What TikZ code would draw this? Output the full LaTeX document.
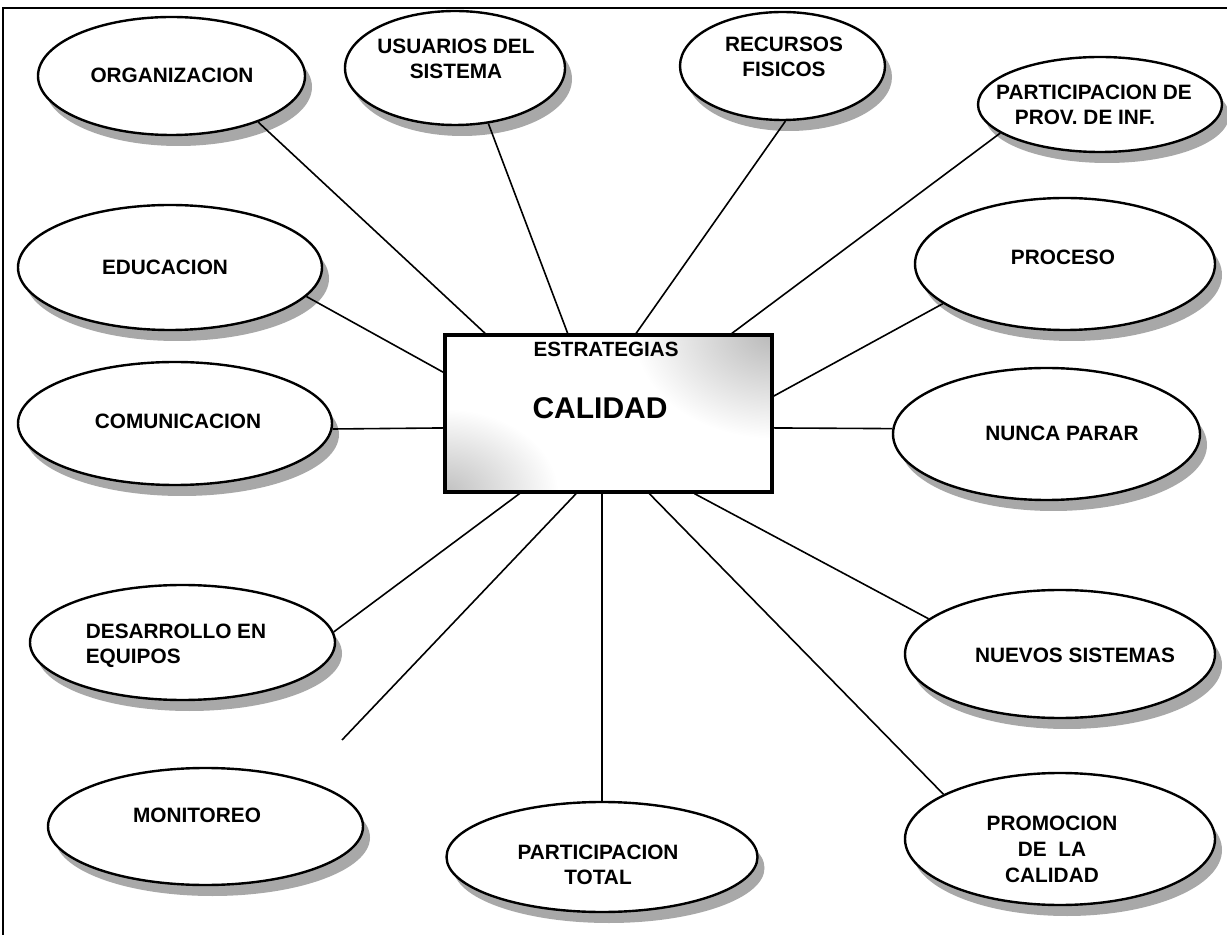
\documentclass[tikz,border=0pt]{standalone}
\usepackage{fontspec}
\setmainfont{Liberation Sans}
\usetikzlibrary{shapes.geometric,shadows,backgrounds}
\begin{document}
\begin{tikzpicture}[x=0.5pt,y=-0.5pt,
  oval/.style={ellipse,draw,line width=1.2pt,fill=white,inner sep=0pt,
    drop shadow={opacity=1,fill=gray!68,shadow xshift=3.5pt,shadow yshift=-5.5pt}},
  lbl/.style={font=\fontsize{10.4}{12.6}\selectfont\bfseries,align=center,inner sep=0pt},
  boxst/.style={rectangle,draw,line width=1.6pt,minimum width=163.5pt,minimum height=78.5pt,inner sep=0pt},
  link/.style={line width=0.8pt}]
\useasboundingbox (0,0) rectangle (1227,935);
% frame
\draw[line width=1.4pt] (3,935) -- (3,8) -- (1227,8);
% central box
\node[boxst] (box) at (608.5,413.5) {};
\begin{scope}[on background layer]
  \fill[white] (0,0) rectangle (1227,935);
  \clip (box.south west) rectangle (box.north east);
  \shade[inner color=gray!55,outer color=white] (box.north east) ellipse [x radius=140,y radius=105];
  \shade[inner color=gray!50,outer color=white] (box.south west) ellipse [x radius=115,y radius=85];
\end{scope}
\node[font=\fontsize{10.3}{12}\selectfont\bfseries,inner sep=0pt] (estr) at (606,349) {ESTRATEGIAS};
\node[font=\fontsize{15}{18}\selectfont\bfseries,inner sep=0pt] (cal) at (600,408) {CALIDAD};
% ellipses
\node[oval,minimum width=133.5pt,minimum height=59pt] (org) at (171.5,76) {};
\node[oval,minimum width=110pt,minimum height=57pt] (usu) at (455,68) {};
\node[oval,minimum width=102.5pt,minimum height=54pt] (rec) at (782.5,66) {};
\node[oval,minimum width=122pt,minimum height=47.5pt] (prov) at (1100,104.5) {};
\node[oval,minimum width=152pt,minimum height=62.5pt] (edu) at (170,267.5) {};
\node[oval,minimum width=150pt,minimum height=66pt] (proc) at (1065,264) {};
\node[oval,minimum width=157pt,minimum height=61.5pt] (com) at (175,423.5) {};
\node[oval,minimum width=153.5pt,minimum height=66pt] (nun) at (1046.5,434) {};
\node[oval,minimum width=152.5pt,minimum height=57.5pt] (des) at (182.5,642.5) {};
\node[oval,minimum width=155pt,minimum height=64pt] (nue) at (1060,654) {};
\node[oval,minimum width=157.5pt,minimum height=58.5pt] (mon) at (205.5,826.5) {};
\node[oval,minimum width=155.5pt,minimum height=55pt] (tot) at (602,857) {};
\node[oval,minimum width=155pt,minimum height=66pt] (pro) at (1060,839) {};
% labels
\node[lbl] (orgT) at (172,75) {ORGANIZACION};
\node[lbl] (usuT) at (456,59) {USUARIOS DEL\\SISTEMA};
\node[lbl] (recT) at (784,57) {RECURSOS\\FISICOS};
\node[lbl,align=left] (provT) at (1094,105) {PARTICIPACION DE\\\hspace*{0.9em}PROV. DE INF.};
\node[lbl] (eduT) at (165,267) {EDUCACION};
\node[lbl] (procT) at (1063,257) {PROCESO};
\node[lbl] (comT) at (178,421) {COMUNICACION};
\node[lbl] (nunT) at (1062,433) {NUNCA PARAR};
\node[lbl,align=left] (desT) at (176,646) {DESARROLLO EN\\EQUIPOS};
\node[lbl] (nueT) at (1075,655) {NUEVOS SISTEMAS};
\node[lbl] (monT) at (197,815) {MONITOREO};
\node[lbl] (totT) at (598,865) {PARTICIPACION\\TOTAL};
\node[lbl,font=\fontsize{10.4}{13}\selectfont\bfseries] (proT) at (1052,849) {PROMOCION\\DE\ \ LA\\CALIDAD};
% connectors
\coordinate (monEnd) at (342,740);
\draw[link] (org.-28) -- (box.147.1);
\draw[link] (usu.-59.8) -- (box.117.3);
\draw[link] (rec.-87.3) -- (box.71.4);
\draw[link] (prov.196) -- (box.33.3);
\draw[link] (edu.-12.9) -- (box.166.1);
\draw[link] (proc.198.4) -- (box.6.5);
\draw[link] (com.-2.4) -- (box.185.8);
\draw[link] (nun.178.5) -- (box.-5.8);
\draw[link] (des.4.8) -- (box.222.2);
\draw[link] (nue.165.7) -- (box.-43.9);
\draw[link] (monEnd) -- (box.248.8);
\draw[link] (tot.north) -- (tot.north |- box.south);
\draw[link] (pro.159) -- (box.-63.3);
\end{tikzpicture}
\end{document}
